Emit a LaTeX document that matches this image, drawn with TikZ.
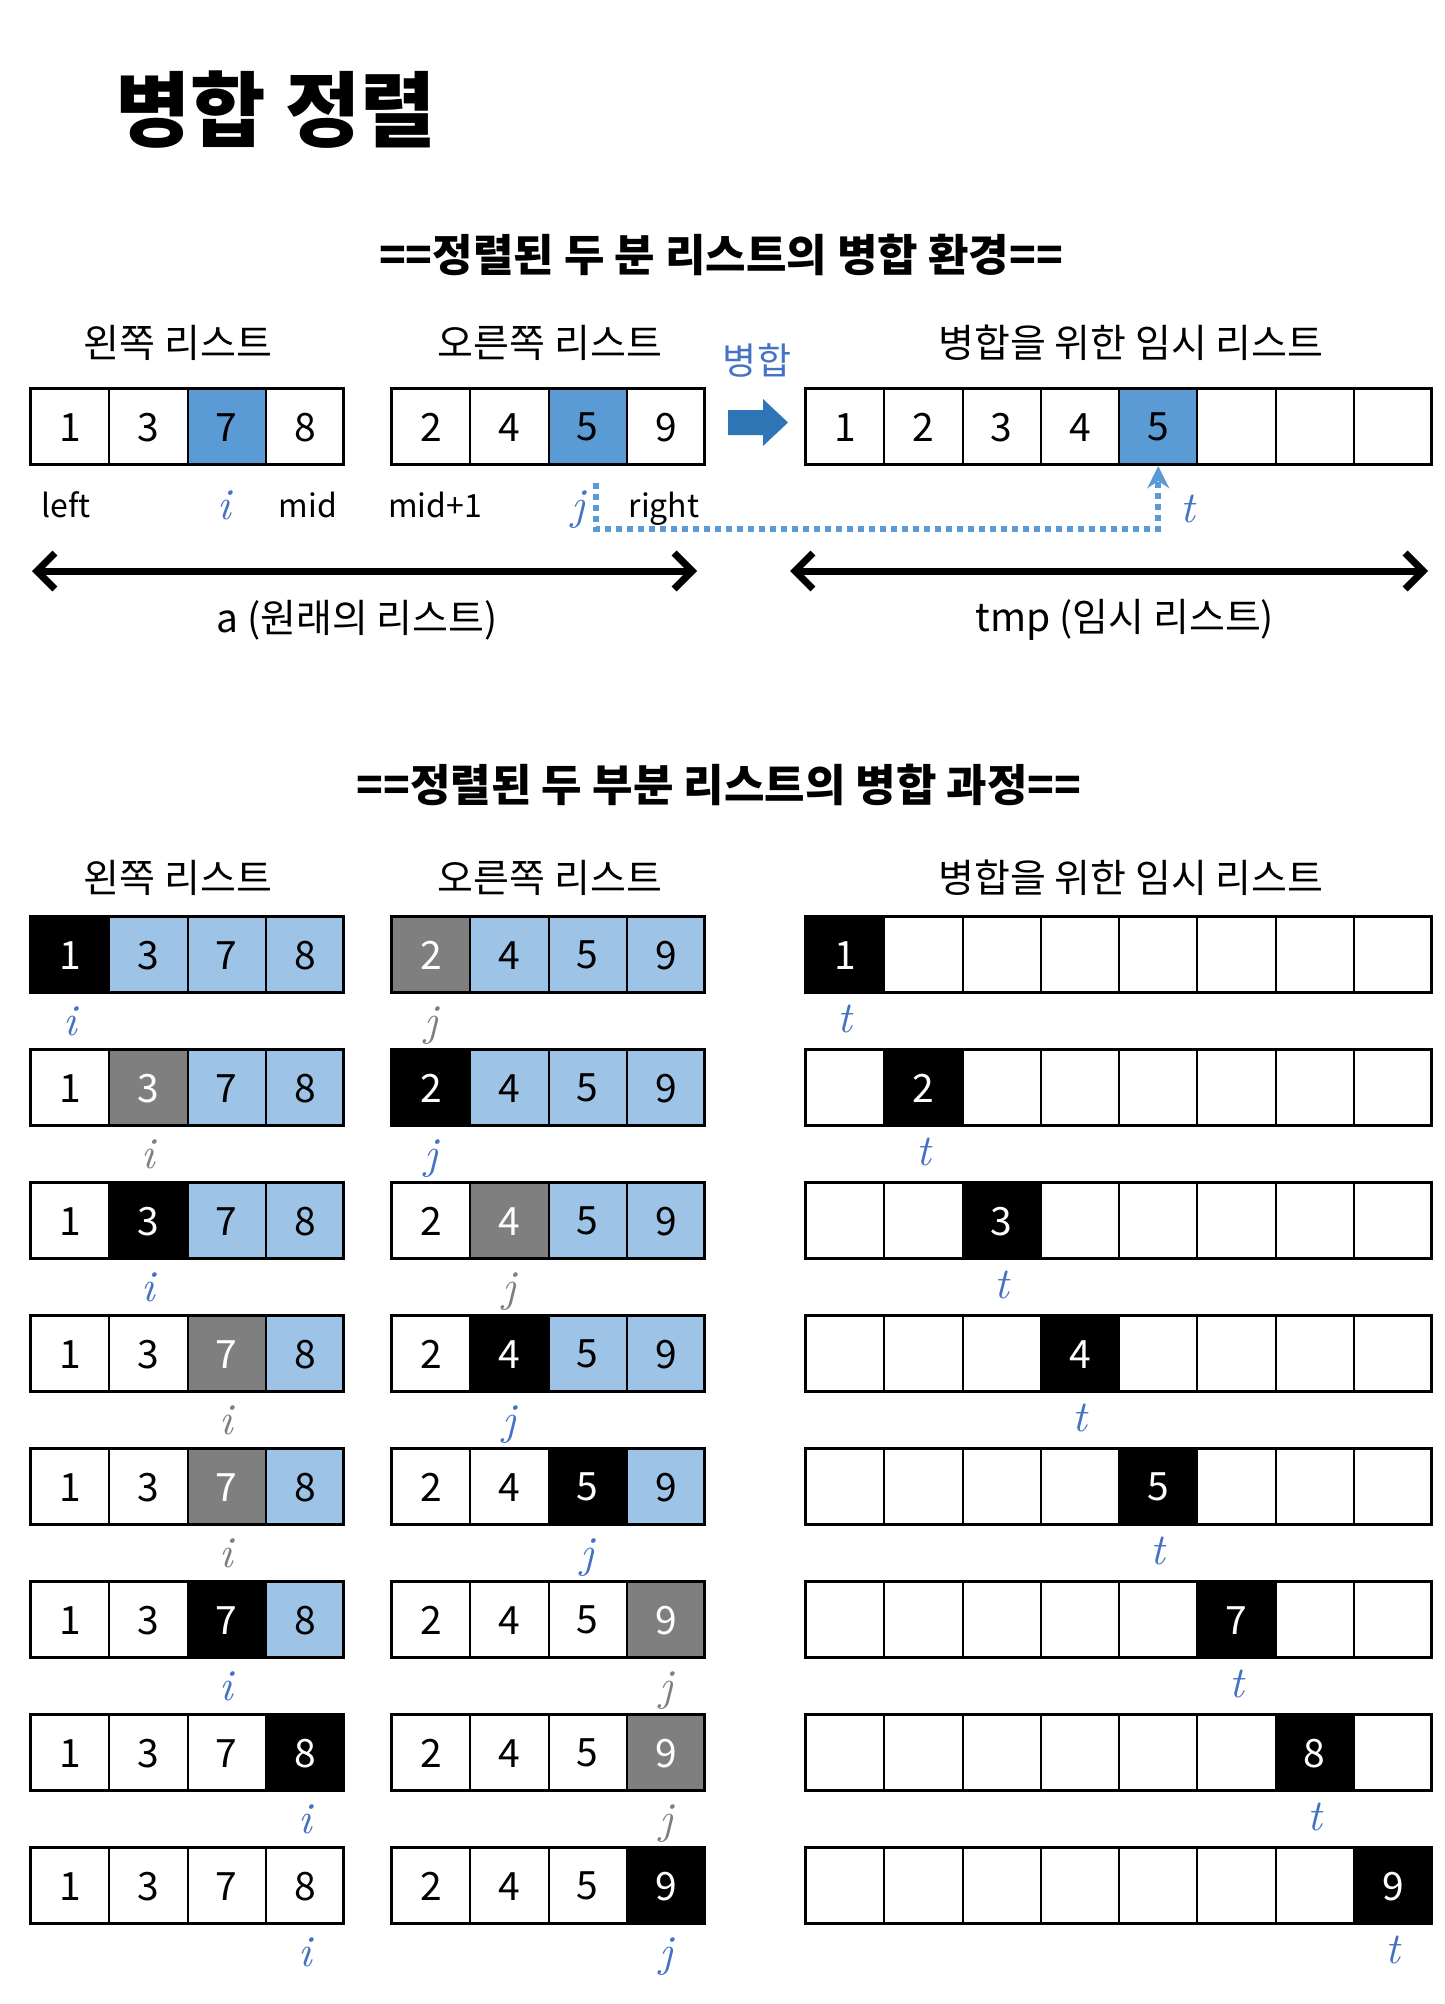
\documentclass[tikz,border=0pt]{standalone}
\usepackage{fontspec}
\setmainfont{Noto Sans CJK KR}
\newfontfamily\italfont{lmroman10-italic.otf}
\usetikzlibrary{arrows.meta}
\definecolor{bleuFonce}{HTML}{5B9BD5}
\definecolor{bleuClair}{HTML}{9DC3E6}
\definecolor{bleuTexte}{HTML}{4472C4}
\definecolor{bleuFleche}{HTML}{2E75B6}
\definecolor{gris}{HTML}{7F7F7F}
\tikzset{
  cellule/.style={draw, line width=2.2pt, anchor=north west, inner sep=0pt,
    minimum width=78.25pt, minimum height=76pt, font=\fontsize{39}{39}\selectfont},
  bord/.style={line width=3pt},
  entete/.style={font=\fontsize{39}{39}\selectfont},
  soustitre/.style={font=\fontsize{44}{44}\selectfont\bfseries},
  borne/.style={anchor=base, font=\fontsize{32}{32}\selectfont},
  indice/.style={anchor=base, text=bleuTexte, font=\italfont\fontsize{44}{44}\selectfont},
  pointille/.style={bleuFonce, line width=6pt, dash pattern=on 6pt off 5pt,
    -{Stealth[length=22pt,width=22pt]}},
  etendue/.style={line width=7pt,
    {Straight Barb[length=18pt,width=36pt]}-{Straight Barb[length=18pt,width=36pt]}},
}
\newcommand\PMListe[5]{
  \foreach \fc/\tc/\val [count=\k from 0] in {#5}
    \node[cellule, fill=\fc, text=\tc] (#1-\k) at ({#2+78.25*\k}, #3) {\val};
  \draw[bord] (#2, #3) rectangle ++({78.25*#4}, 76);
}
\newcommand\PMTemp[4]{
  \foreach \k in {0,...,7}
    \node[cellule, fill=white] (#1-\k) at ({805+78.25*\k}, #2) {};
  \node[cellule, fill=black, text=white] (#1-n) at ({805+78.25*#3}, #2) {#4};
  \draw[bord] (805, #2) rectangle ++(626, 76);
}
\newcommand\PMEtape[9]{
  \pgfmathsetmacro\yr{916+133*#1}
  \PMListe{gauche#1}{30}{\yr}{4}{#2}
  \PMListe{droite#1}{391}{\yr}{4}{#3}
  \PMTemp{temp#1}{\yr}{#4}{#5}
  \node[indice, text=#7] (li#1) at ([yshift=-41pt]gauche#1-#6.south) {i};
  \node[indice, text=#9] (lj#1) at ([yshift=-41pt]droite#1-#8.south) {j};
  \node[indice] (lt#1) at ([yshift=-38pt]temp#1-#4.south) {t};
}

\begin{document}
\begin{tikzpicture}[x=1pt, y=-1pt]
  \useasboundingbox[fill=white] (0,0) rectangle (1444,2004);
  \node[anchor=west, font=\fontsize{82}{82}\selectfont\bfseries] (titre) at (112,110) {병합 정렬};

  \node[soustitre] (env) at (721,255) {==정렬된 두 분 리스트의 병합 환경==};
  \node[entete] (hg) at (178,343) {왼쪽 리스트};
  \node[entete] (hd) at (550,343) {오른쪽 리스트};
  \node[entete] (ht) at (1131,343) {병합을 위한 임시 리스트};
  \node[entete, text=bleuTexte, font=\fontsize{37}{37}\selectfont] (fus) at (757,360) {병합};
  \PMListe{gauche}{30}{388}{4}{white/black/1, white/black/3, bleuFonce/black/7, white/black/8}
  \PMListe{droite}{391}{388}{4}{white/black/2, white/black/4, bleuFonce/black/5, white/black/9}
  \PMListe{tmp}{805}{388}{8}{white/black/1, white/black/2, white/black/3, white/black/4,
    bleuFonce/black/5, white/black/{}, white/black/{}, white/black/{}}
  \fill[bleuFleche] (728,410) -- (763,410) -- (763,399) -- (788,422.5)
    -- (763,446) -- (763,435) -- (728,435) -- cycle;
  \node[borne] (left) at (66,517) {left};
  \node[borne] (mid) at (308,517) {mid};
  \node[borne] (mid1) at (435,517) {mid+1};
  \node[borne] (right) at (664,517) {right};
  \node[indice] (ii) at (224,519) {i};
  \node[indice] (jj) at (578,519) {j};
  \node[indice] (tt) at (1188,522) {t};
  \coordinate (jbas) at (596,483);
  \draw[pointille] (jbas) -- ++(0,46) -| (tmp-4.south);
  \coordinate (aG) at (32,571);
  \coordinate (aD) at (697,571);
  \coordinate (tG) at (790,571);
  \coordinate (tD) at (1428,571);
  \draw[etendue] (aG) -- (aD);
  \draw[etendue] (tG) -- (tD);
  \node[entete] (la) at (357,620) {a (원래의 리스트)};
  \node[entete] (ltmp) at (1125,620) {tmp (임시 리스트)};

  \node[soustitre] (proc) at (719,785) {==정렬된 두 부분 리스트의 병합 과정==};
  \node[entete] (hg2) at (178,878) {왼쪽 리스트};
  \node[entete] (hd2) at (550,878) {오른쪽 리스트};
  \node[entete] (ht2) at (1131,878) {병합을 위한 임시 리스트};
  \PMEtape{0}{black/white/1, bleuClair/black/3, bleuClair/black/7, bleuClair/black/8}
    {gris/white/2, bleuClair/black/4, bleuClair/black/5, bleuClair/black/9}{0}{1}{0}{bleuTexte}{0}{gris}
  \PMEtape{1}{white/black/1, gris/white/3, bleuClair/black/7, bleuClair/black/8}
    {black/white/2, bleuClair/black/4, bleuClair/black/5, bleuClair/black/9}{1}{2}{1}{gris}{0}{bleuTexte}
  \PMEtape{2}{white/black/1, black/white/3, bleuClair/black/7, bleuClair/black/8}
    {white/black/2, gris/white/4, bleuClair/black/5, bleuClair/black/9}{2}{3}{1}{bleuTexte}{1}{gris}
  \PMEtape{3}{white/black/1, white/black/3, gris/white/7, bleuClair/black/8}
    {white/black/2, black/white/4, bleuClair/black/5, bleuClair/black/9}{3}{4}{2}{gris}{1}{bleuTexte}
  \PMEtape{4}{white/black/1, white/black/3, gris/white/7, bleuClair/black/8}
    {white/black/2, white/black/4, black/white/5, bleuClair/black/9}{4}{5}{2}{gris}{2}{bleuTexte}
  \PMEtape{5}{white/black/1, white/black/3, black/white/7, bleuClair/black/8}
    {white/black/2, white/black/4, white/black/5, gris/white/9}{5}{7}{2}{bleuTexte}{3}{gris}
  \PMEtape{6}{white/black/1, white/black/3, white/black/7, black/white/8}
    {white/black/2, white/black/4, white/black/5, gris/white/9}{6}{8}{3}{bleuTexte}{3}{gris}
  \PMEtape{7}{white/black/1, white/black/3, white/black/7, white/black/8}
    {white/black/2, white/black/4, white/black/5, black/white/9}{7}{9}{3}{bleuTexte}{3}{bleuTexte}
\end{tikzpicture}
\end{document}
